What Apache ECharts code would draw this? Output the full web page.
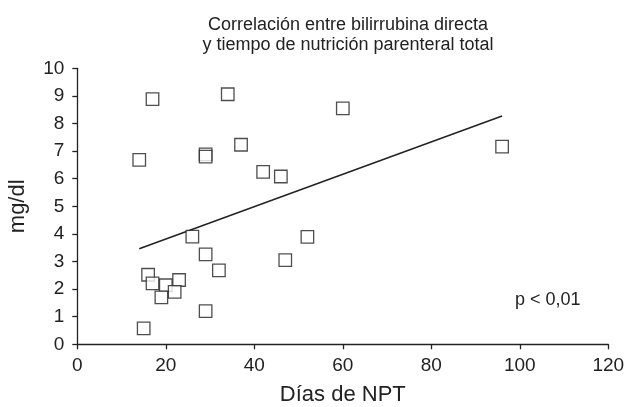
<!DOCTYPE html>
<html><head><meta charset="utf-8">
<script src="https://cdn.jsdelivr.net/npm/echarts@6/dist/echarts.min.js"></script>
<style>html,body{margin:0;padding:0;background:#fff}#c{width:630px;height:407px}</style>
</head><body><div id="c"></div>
<script>
const diasNPT = [14, 17, 34, 60, 37, 29, 29, 42, 46, 26, 52, 29, 47, 32, 16, 17, 20, 23, 22, 19, 29, 15, 96];
const bilirrubina = [6.68, 8.88, 9.06, 8.55, 7.23, 6.88, 6.8, 6.25, 6.08, 3.9, 3.89, 3.26, 3.05, 2.68, 2.52, 2.21, 2.14, 2.33, 1.9, 1.7, 1.2, 0.58, 7.16];
const trendX = [14, 96];
const trendY = [3.46, 8.27];
const xTicks = [0, 20, 40, 60, 80, 100, 120];
const yTicks = [0, 1, 2, 3, 4, 5, 6, 7, 8, 9, 10];

const points = diasNPT.map((d, i) => [d, bilirrubina[i]]);
const trend = trendX.map((d, i) => [d, trendY[i]]);
const ink = '#222';
const font = 'Liberation Sans, Arial, sans-serif';
const chart = echarts.init(document.getElementById('c'), null, {renderer: 'canvas'});
chart.setOption({
  animation: false,
  title: {
    text: 'Correlación entre bilirrubina directa\ny tiempo de nutrición parenteral total',
    left: 343, top: 10, textAlign: 'center',
    textStyle: {fontFamily: font, fontSize: 18, fontWeight: 'normal', color: ink, lineHeight: 20}
  },
  grid: {left: 77.3, right: 21.7, top: 68.3, bottom: 62.7, containLabel: false, outerBoundsMode: 'none'},
  xAxis: {
    type: 'value', min: xTicks[0], max: xTicks[xTicks.length - 1], interval: 20,
    name: 'Días de NPT', nameLocation: 'middle', nameGap: 40,
    nameTextStyle: {fontFamily: font, fontSize: 22, color: ink},
    axisLine: {lineStyle: {color: ink, width: 1.3}},
    axisTick: {show: true, length: 5, lineStyle: {color: ink, width: 1.3}},
    axisLabel: {fontFamily: font, fontSize: 19, color: ink, margin: 12},
    splitLine: {show: false}
  },
  yAxis: {
    type: 'value', min: yTicks[0], max: yTicks[yTicks.length - 1], interval: 1,
    name: 'mg/dl', nameLocation: 'middle', nameGap: 48, nameRotate: 90,
    nameTextStyle: {fontFamily: font, fontSize: 22, color: ink},
    axisLine: {show: true, lineStyle: {color: ink, width: 1.3}},
    axisTick: {show: true, length: 5, lineStyle: {color: ink, width: 1.3}},
    axisLabel: {fontFamily: font, fontSize: 19, color: ink, margin: 13},
    splitLine: {show: false}
  },
  series: [
    {
      type: 'line', data: trend, symbol: 'none', silent: true,
      lineStyle: {color: ink, width: 1.5}, z: 1
    },
    {
      type: 'scatter', data: points, symbol: 'rect', symbolSize: 12.5,
      itemStyle: {color: '#fff', borderColor: ink, borderWidth: 1.3}, z: 2
    }
  ],
  graphic: [{
    type: 'text', left: 515, top: 291,
    style: {text: 'p < 0,01', font: '18px ' + font, fill: ink}
  }]
});
</script></body></html>
